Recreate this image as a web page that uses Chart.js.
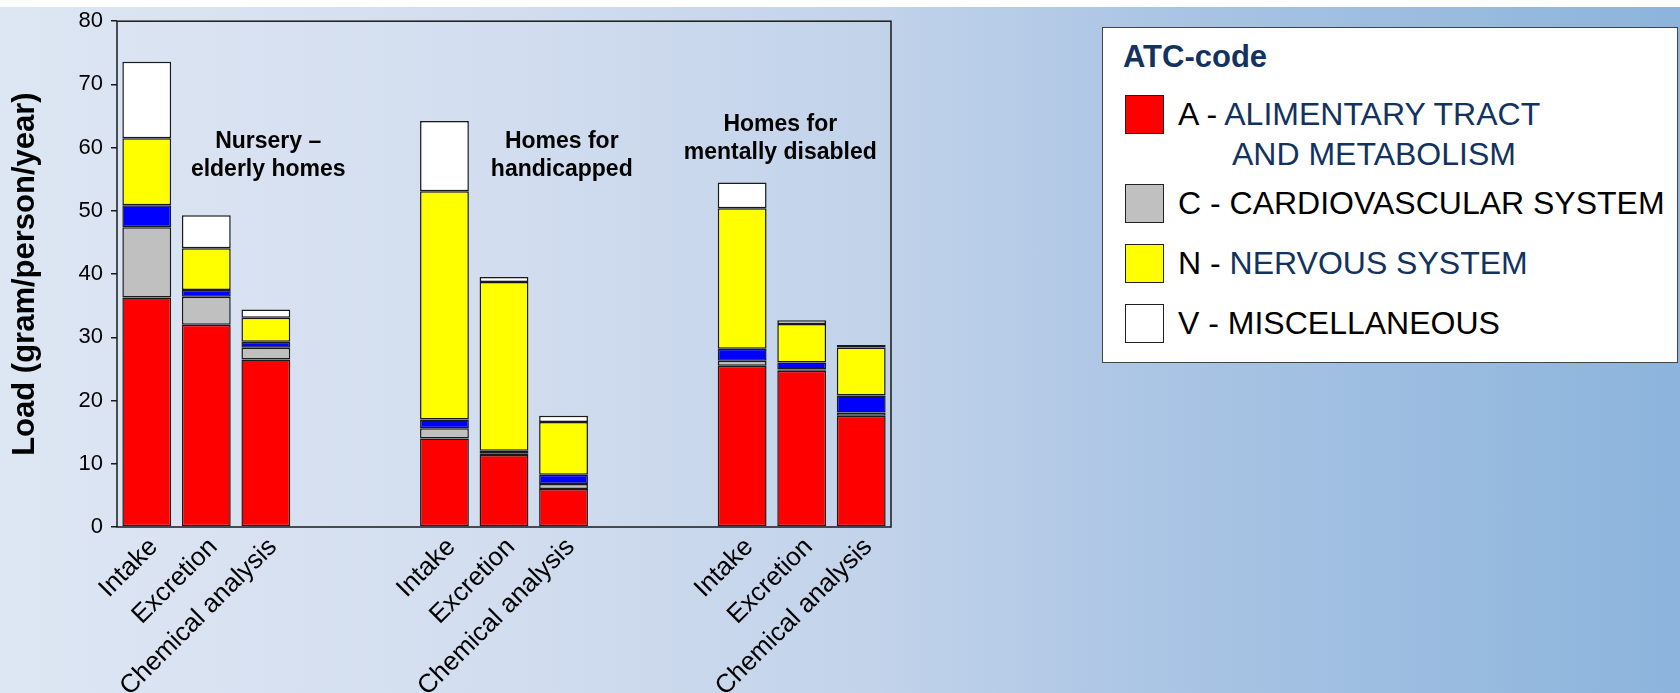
<!DOCTYPE html>
<html>
<head>
<meta charset="utf-8">
<script src="https://cdn.jsdelivr.net/npm/chart.js@4/dist/chart.umd.min.js"></script>
<style>
  html, body { margin: 0; padding: 0; background: #fff; overflow: hidden; }
  #wrap { position: relative; width: 1680px; height: 693px; }
  #bg {
    position: absolute; left: 0; top: 7px; width: 1680px; height: 686px;
    background: linear-gradient(90deg, #dde6f3 0%, #d2ddef 30%, #c2d3ea 52%, #a9c4e4 70%, #8cb4dc 100%);
  }
  #chartBox { position: absolute; left: 0; top: 0; width: 1680px; height: 693px; }
  #legend {
    position: absolute; left: 1102px; top: 27px; width: 576px; height: 336px;
    box-sizing: border-box; background: #fff; border: 1.5px solid #444;
    font-family: "Liberation Sans", Arial, sans-serif;
  }
  #legend .title {
    position: absolute; left: 20px; top: 11px; line-height: 36px;
    font-size: 31px; font-weight: bold; color: #12325f;
  }
  #legend .row {
    position: absolute; left: 22px; height: 39px; display: flex; align-items: center;
    font-size: 32px; line-height: 39px; color: #000; white-space: nowrap;
  }
  #legend .swatch {
    width: 39px; height: 39px; box-sizing: border-box; border: 1.5px solid #222;
    margin-right: 14px; flex: none;
  }
  #legend .navy { color: #12325f; }
  #legend .cont {
    position: absolute; left: 129px; font-size: 32px; line-height: 39px;
    color: #12325f; white-space: nowrap;
  }
</style>
</head>
<body>
<div id="wrap">
  <div id="bg"></div>
  <div id="chartBox"><canvas id="loadChart"></canvas></div>
  <div id="legend"></div>
</div>
<script>
// categories: three groups of three bars, two empty slots between groups
const categories = [
  'Intake', 'Excretion', 'Chemical analysis', '', '',
  'Intake', 'Excretion', 'Chemical analysis', '', '',
  'Intake', 'Excretion', 'Chemical analysis'
];

// stacked loads, gram/person/year, bottom to top
const alimentary = [36.3, 32.0, 26.5, null, null, 14.0, 11.4, 6.0, null, null, 25.5, 24.7, 17.6];
const cardio     = [11.1, 4.4, 1.85, null, null, 1.6, 0.2, 0.8, null, null, 0.8, 0.2, 0.5];
const otherAtc   = [3.5, 1.1, 0.95, null, null, 1.4, 0.45, 1.45, null, null, 1.9, 1.1, 2.7];
const nervous    = [10.6, 6.6, 3.8, null, null, 36.1, 26.7, 8.35, null, null, 22.2, 6.1, 7.6];
const misc       = [12.1, 5.2, 1.3, null, null, 11.1, 0.8, 1.0, null, null, 4.1, 0.6, 0.4];

const yTicks = [0, 10, 20, 30, 40, 50, 60, 70, 80];

const groupTitles = [
  ['Nursery \u2013', 'elderly homes'],
  ['Homes for', 'handicapped'],
  ['Homes for', 'mentally disabled']
];

const legendCodes = ['A', 'C', 'N', 'V'];
const legendNames = [
  ['ALIMENTARY TRACT', 'AND METABOLISM'],
  ['CARDIOVASCULAR SYSTEM'],
  ['NERVOUS SYSTEM'],
  ['MISCELLANEOUS']
];
const legendNavy = [true, false, true, false];

const colors = {
  A: '#ff0000',
  C: '#c0c0c0',
  other: '#0000ff',
  N: '#ffff00',
  V: '#ffffff'
};

Chart.defaults.font.family = '"Liberation Sans", Arial, sans-serif';
Chart.defaults.color = '#000';

function seg(label, data, color) {
  return {
    label: label,
    data: data,
    backgroundColor: color,
    borderColor: '#1a1a1a',
    borderWidth: 1.5,
    borderSkipped: false,
    barPercentage: 0.82,
    categoryPercentage: 1.0
  };
}

const frame = {
  id: 'frame',
  afterDatasetsDraw(chart) {
    const a = chart.chartArea;
    const ctx = chart.ctx;
    ctx.save();
    ctx.strokeStyle = '#1a1a1a';
    ctx.lineWidth = 1.5;
    ctx.strokeRect(a.left, a.top, a.right - a.left, a.bottom - a.top);
    ctx.restore();
  }
};

const groupLabels = {
  id: 'groupLabels',
  afterDatasetsDraw(chart, args, opts) {
    const ctx = chart.ctx;
    const xs = chart.scales.x;
    const ys = chart.scales.y;
    ctx.save();
    ctx.font = 'bold 23px "Liberation Sans", Arial, sans-serif';
    ctx.fillStyle = '#000';
    ctx.textAlign = 'center';
    ctx.textBaseline = 'middle';
    groupTitles.forEach((lines, i) => {
      const anchor = opts.anchors[i];
      const x = xs.left + (anchor.x + 0.5) * (xs.width / categories.length);
      const y = ys.getPixelForValue(anchor.y);
      lines.forEach((t, j) => ctx.fillText(t, x, y + j * 28));
    });
    ctx.restore();
  }
};

new Chart(document.getElementById('loadChart'), {
  type: 'bar',
  data: {
    labels: categories,
    datasets: [
      seg('A', alimentary, colors.A),
      seg('C', cardio, colors.C),
      seg('Other', otherAtc, colors.other),
      seg('N', nervous, colors.N),
      seg('V', misc, colors.V)
    ]
  },
  options: {
    responsive: true,
    maintainAspectRatio: false,
    animation: false,
    layout: { padding: { top: 20, right: 789, bottom: 0, left: 0 } },
    plugins: {
      legend: { display: false },
      tooltip: { enabled: false },
      groupLabels: {
        anchors: [{ x: 2.04, y: 60.9 }, { x: 6.97, y: 60.9 }, { x: 10.64, y: 63.7 }]
      }
    },
    scales: {
      x: {
        stacked: true,
        grid: { display: false, drawTicks: false },
        border: { display: false },
        ticks: {
          autoSkip: false,
          minRotation: 45,
          maxRotation: 45,
          padding: 5,
          labelOffset: 7,
          color: '#000',
          font: { size: 26 }
        },
        afterFit(scale) { scale.height = 166; }
      },
      y: {
        stacked: true,
        min: 0,
        max: 80,
        afterBuildTicks(scale) { scale.ticks = yTicks.map(v => ({ value: v })); },
        grid: {
          drawOnChartArea: false,
          drawTicks: true,
          tickLength: 6,
          color: '#1a1a1a',
          lineWidth: 1.5
        },
        border: { display: false },
        ticks: {
          padding: 8,
          color: '#000',
          font: { size: 22 }
        },
        title: {
          display: true,
          text: 'Load (gram/person/year)',
          color: '#000',
          font: { size: 31, weight: 'bold' },
          padding: { top: 7, bottom: 0 }
        },
        afterFit(scale) { scale.width = 117; }
      }
    }
  },
  plugins: [frame, groupLabels]
});

// legend box with the four listed ATC codes
const legendColors = [colors.A, colors.C, colors.N, colors.V];
const rowTops = [67, 156, 216, 276];
const legend = document.getElementById('legend');
let html = '<div class="title">ATC-code</div>';
legendCodes.forEach((code, i) => {
  const nameCls = legendNavy[i] ? 'navy' : '';
  html += '<div class="row" style="top:' + rowTops[i] + 'px">' +
    '<span class="swatch" style="background:' + legendColors[i] + '"></span>' +
    '<span>' + code + ' - <span class="' + nameCls + '">' + legendNames[i][0] + '</span></span></div>';
  if (legendNames[i].length > 1) {
    html += '<div class="cont" style="top:' + (rowTops[i] + 40) + 'px">' + legendNames[i][1] + '</div>';
  }
});
legend.innerHTML = html;
</script>
</body>
</html>
